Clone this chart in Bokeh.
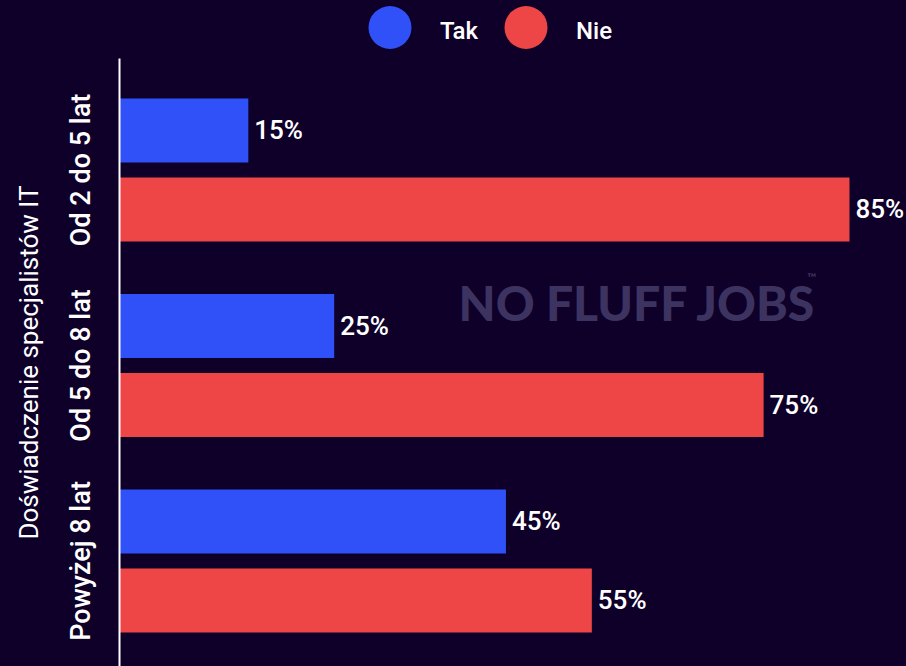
from bokeh.plotting import figure
from bokeh.layouts import column
from bokeh.models import ColumnDataSource, Range1d, FixedTicker, Label
from bokeh.core.properties import value
from bokeh.embed import file_html
from bokeh.resources import INLINE

categories = ["Od 2 do 5 lat", "Od 5 do 8 lat", "Powyżej 8 lat"]
series_names = ["Tak", "Nie"]
tak_values = [15, 25, 45]
nie_values = [85, 75, 55]
axis_title = "Doświadczenie specjalistów IT"

BG = "#0f0029"
BLUE = "#3050f8"
RED = "#ee4646"
FONT_M = "'Roboto Medium', Roboto"
FONT = "Roboto"
LEFT = 119

# ---- legend strip ----
leg = figure(width=906, height=58, output_backend="svg", toolbar_location=None,
             x_range=Range1d(LEFT, 906), y_range=Range1d(0, 58),
             x_axis_location=None, y_axis_location=None,
             min_border=0, min_border_left=LEFT,
             background_fill_color=BG, border_fill_color=BG)
leg.grid.visible = False
leg.outline_line_color = None
leg_x = [389.5, 525.5]
leg.scatter(x=leg_x, y=[31, 31], size=43, color=[BLUE, RED], line_color=None)
leg.text(x=[x + 50 for x in leg_x], y=[28, 28], text=series_names,
         text_font=value(FONT_M), text_font_size="24px",
         text_color="white", text_baseline="alphabetic", text_align="left")

# ---- main chart ----
y_pos = list(range(len(categories)))
off = 0.202
h = 0.327
src_tak = ColumnDataSource(dict(y=[v - off for v in y_pos], v=tak_values,
                                lab=[f"{t}%" for t in tak_values]))
src_nie = ColumnDataSource(dict(y=[v + off for v in y_pos], v=nie_values,
                                lab=[f"{t}%" for t in nie_values]))

p = figure(width=906, height=608, output_backend="svg", toolbar_location=None,
           x_range=Range1d(0, 91.64), y_range=Range1d(2.54, -0.57),
           min_border_left=LEFT, min_border_right=0, min_border_top=0, min_border_bottom=0,
           background_fill_color=BG, border_fill_color=BG)
p.outline_line_color = None
p.grid.visible = False
p.xaxis.visible = False

p.hbar(y="y", right="v", left=0, height=h, source=src_tak, color=BLUE, line_color=None)
p.hbar(y="y", right="v", left=0, height=h, source=src_nie, color=RED, line_color=None)
for s in (src_tak, src_nie):
    p.text(x="v", y="y", text="lab", source=s, x_offset=6,
           text_font=value(FONT_M), text_font_size="26px",
           text_color="white", text_baseline="middle", text_align="left")

p.add_layout(Label(x=339, y=364, x_units="screen", y_units="screen", text="NO FLUFF JOBS",
                   text_font="'Lato Black', Lato", text_font_size="48px", text_font_style="bold",
                   text_color="#3d3361", text_baseline="alphabetic"))
p.add_layout(Label(x=688, y=389, x_units="screen", y_units="screen", text="™",
                   text_font="Lato", text_font_size="12px", text_font_style="bold",
                   text_color="#3d3361", text_baseline="alphabetic"))

ya = p.yaxis[0]
ya.ticker = FixedTicker(ticks=y_pos)
ya.major_label_overrides = {i: c for i, c in enumerate(categories)}
ya.major_label_orientation = "parallel"
ya.major_label_text_font = FONT_M
ya.major_label_text_font_size = "27px"
ya.major_label_text_color = "white"
ya.major_label_standoff = 16
ya.major_tick_line_color = None
ya.minor_tick_line_color = None
ya.axis_line_color = "white"
ya.axis_line_width = 2
ya.axis_label = axis_title
ya.axis_label_text_font = FONT
ya.axis_label_text_font_size = "26px"
ya.axis_label_text_font_style = "normal"
ya.axis_label_text_color = "white"
ya.axis_label_standoff = 19

layout = column(leg, p, spacing=0, styles={"background-color": BG})
open("out.html", "w").write(file_html(layout, INLINE))
